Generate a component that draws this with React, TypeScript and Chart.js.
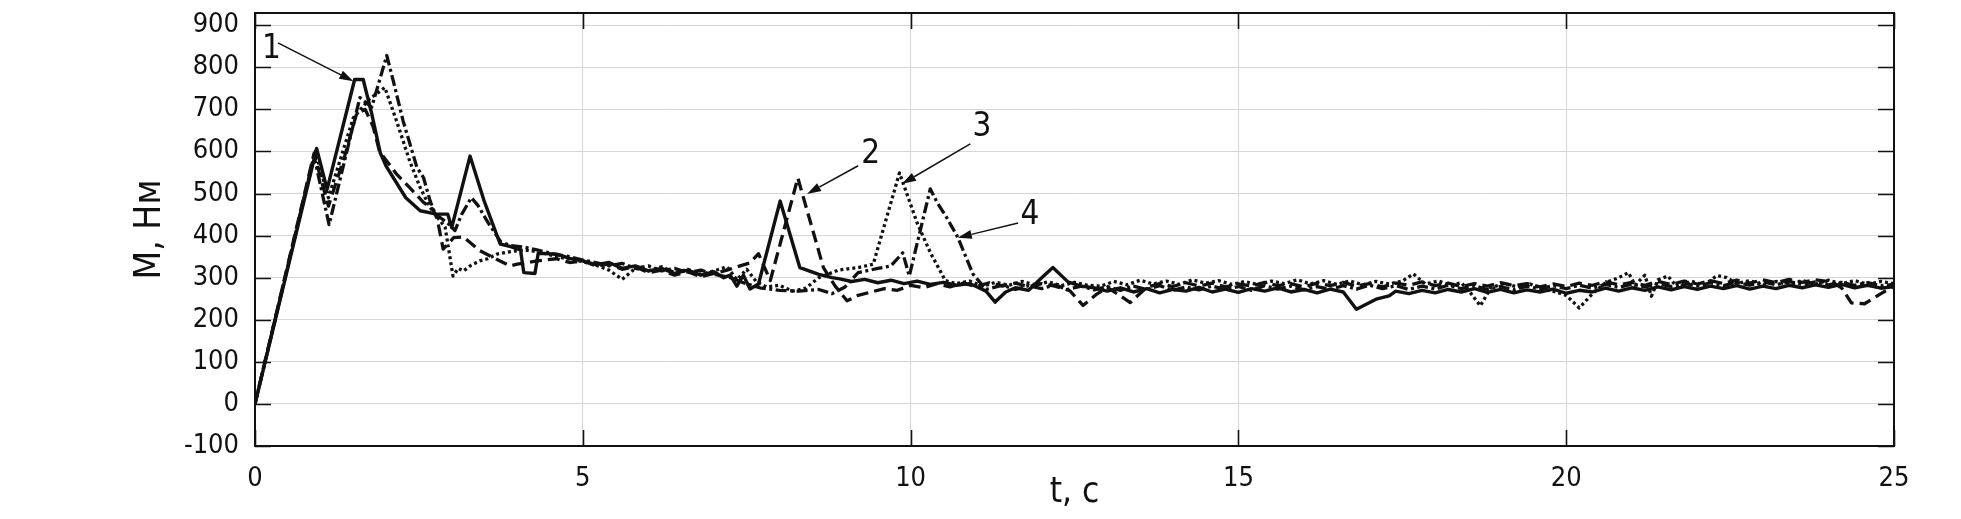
import React, { useEffect, useRef } from "react";
import { Chart, registerables } from "chart.js";

Chart.register(...registerables);

// ---------- data ----------
const xTickValues = [0, 5, 10, 15, 20, 25];
const yTickValues = [-100, 0, 100, 200, 300, 400, 500, 600, 700, 800, 900];

// series 1 (solid) : [t, M]
const series1: [number, number][] = [
  [0, 0], [0.94, 607], [1.1, 510], [1.52, 771], [1.65, 771], [1.78, 690], [1.91, 597], [2.0, 565],
  [2.3, 490], [2.52, 459], [2.77, 451], [2.94, 451], [3.0, 419], [3.28, 589], [3.5, 480], [3.74, 380],
  [3.9, 374], [4.05, 366], [4.1, 312], [4.27, 310], [4.32, 358], [4.6, 356], [4.8, 346], [5.0, 340],
  [5.2, 331], [5.4, 336], [5.6, 322], [5.8, 328], [6.0, 316], [6.2, 322], [6.4, 310], [6.6, 318],
  [6.8, 306], [7.0, 314], [7.15, 300], [7.25, 306], [7.35, 280], [7.45, 306], [7.55, 273], [7.68, 285],
  [8.01, 482], [8.31, 324], [8.6, 308], [8.8, 300], [8.92, 297], [9.1, 291], [9.3, 296], [9.5, 288],
  [9.7, 294], [9.9, 286], [10.1, 292], [10.3, 284], [10.5, 289], [10.7, 282], [10.9, 286], [11.0, 279],
  [11.15, 268], [11.29, 242], [11.45, 266], [11.6, 276], [11.8, 270], [12.0, 300], [12.17, 324], [12.4, 290],
  [12.6, 280], [12.8, 276], [13.0, 268], [13.2, 276], [13.4, 266], [13.6, 274], [13.8, 264], [14.0, 272],
  [14.2, 268], [14.4, 277], [14.6, 266], [14.8, 273], [15.0, 265], [15.2, 274], [15.4, 268], [15.6, 276],
  [15.8, 266], [16.0, 272], [16.2, 264], [16.4, 273], [16.6, 266], [16.8, 225], [17.1, 249], [17.3, 257],
  [17.4, 268], [17.6, 262], [17.8, 270], [18.0, 264], [18.2, 272], [18.4, 266], [18.6, 274], [18.8, 265],
  [19.0, 272], [19.2, 264], [19.4, 271], [19.6, 266], [19.8, 273], [20.0, 263], [20.2, 270], [20.4, 266],
  [20.6, 275], [20.8, 268], [21.0, 276], [21.2, 270], [21.4, 278], [21.6, 271], [21.8, 279], [22.0, 272],
  [22.2, 280], [22.4, 274], [22.6, 281], [22.8, 273], [23.0, 280], [23.2, 274], [23.4, 282], [23.6, 276],
  [23.8, 283], [24.0, 277], [24.2, 284], [24.4, 276], [24.6, 282], [24.8, 275], [25.0, 279],
];

// series 2 (dashed)
const series2: [number, number][] = [
  [0, 0], [0.9, 595], [1.12, 470], [1.37, 590], [1.55, 690], [1.68, 700], [1.8, 660], [1.9, 600],
  [2.16, 546], [2.36, 514], [2.57, 479], [2.7, 465], [2.78, 440], [2.87, 368], [3.03, 395], [3.18, 397],
  [3.43, 364], [3.63, 348], [3.89, 328], [4.0, 332], [4.3, 340], [4.6, 345], [4.8, 336], [5.0, 340],
  [5.2, 328], [5.4, 332], [5.6, 320], [5.8, 326], [6.0, 312], [6.2, 318], [6.4, 306], [6.6, 314],
  [6.8, 302], [7.0, 310], [7.2, 318], [7.4, 328], [7.55, 335], [7.68, 357], [7.86, 293], [8.28, 537],
  [8.67, 324], [8.85, 280], [9.03, 245], [9.2, 258], [9.4, 266], [9.6, 274], [9.8, 270], [10.0, 282],
  [10.2, 276], [10.4, 286], [10.6, 278], [10.8, 287], [11.0, 279], [11.2, 288], [11.4, 280], [11.6, 287],
  [11.8, 279], [12.0, 286], [12.2, 280], [12.43, 269], [12.63, 234], [12.84, 261], [13.0, 277], [13.15, 262],
  [13.35, 241], [13.6, 277], [13.8, 286], [14.0, 279], [14.2, 288], [14.4, 280], [14.6, 287], [14.8, 278],
  [15.0, 285], [15.2, 280], [15.4, 289], [15.6, 281], [15.8, 286], [16.0, 278], [16.2, 287], [16.4, 281],
  [16.6, 289], [16.8, 280], [17.0, 286], [17.2, 278], [17.4, 287], [17.6, 282], [17.8, 290], [18.0, 281],
  [18.2, 287], [18.4, 279], [18.6, 286], [18.8, 280], [19.0, 288], [19.2, 281], [19.4, 286], [19.6, 278],
  [19.8, 285], [20.0, 279], [20.2, 287], [20.4, 282], [20.6, 290], [20.8, 283], [21.0, 289], [21.2, 282],
  [21.4, 291], [21.6, 284], [21.8, 292], [22.0, 285], [22.2, 293], [22.4, 286], [22.6, 294], [22.8, 287],
  [23.0, 295], [23.2, 288], [23.4, 296], [23.6, 289], [23.8, 295], [24.05, 290], [24.2, 276], [24.35, 240],
  [24.55, 238], [24.8, 262], [25.0, 280],
];

// series 3 (dotted)
const series3: [number, number][] = [
  [0, 0], [0.92, 600], [1.12, 490], [1.5, 680], [1.75, 725], [1.98, 752], [2.16, 672], [2.36, 577],
  [2.52, 514], [2.67, 467], [2.8, 440], [2.9, 420], [3.02, 304], [3.1, 322], [3.18, 316], [3.3, 330],
  [3.43, 340], [3.55, 345], [3.69, 356], [3.9, 362], [4.1, 366], [4.3, 362], [4.6, 350], [4.8, 344],
  [5.0, 338], [5.2, 330], [5.4, 318], [5.6, 296], [5.8, 322], [6.0, 316], [6.2, 326], [6.4, 312],
  [6.6, 320], [6.8, 308], [7.0, 316], [7.2, 326], [7.35, 295], [7.5, 320], [7.65, 290], [7.8, 278],
  [8.0, 282], [8.2, 268], [8.4, 275], [8.6, 300], [8.9, 318], [9.2, 324], [9.43, 332], [9.83, 549],
  [10.1, 430], [10.3, 360], [10.53, 293], [10.7, 286], [10.9, 292], [11.1, 280], [11.3, 289], [11.5, 282],
  [11.7, 291], [11.9, 283], [12.1, 290], [12.3, 281], [12.5, 289], [12.7, 282], [12.9, 280], [13.1, 291],
  [13.3, 283], [13.5, 294], [13.7, 285], [13.9, 292], [14.1, 284], [14.3, 295], [14.5, 287], [14.7, 293],
  [14.9, 284], [15.1, 291], [15.3, 283], [15.5, 292], [15.7, 286], [15.9, 295], [16.1, 285], [16.3, 293],
  [16.5, 284], [16.7, 292], [16.9, 283], [17.1, 291], [17.3, 285], [17.5, 292], [17.67, 309], [17.85, 285],
  [18.05, 292], [18.25, 282], [18.4, 288], [18.55, 262], [18.69, 233], [18.85, 276], [19.05, 286], [19.25, 278],
  [19.45, 285], [19.65, 272], [19.85, 266], [20.0, 258], [20.2, 228], [20.4, 262], [20.6, 288], [20.8, 300],
  [20.95, 312], [21.05, 282], [21.2, 306], [21.3, 256], [21.4, 295], [21.55, 304], [21.7, 276], [21.9, 292],
  [22.1, 282], [22.3, 305], [22.45, 300], [22.6, 286], [22.8, 293], [23.0, 282], [23.2, 291], [23.4, 283],
  [23.6, 293], [23.8, 285], [24.0, 294], [24.2, 286], [24.4, 293], [24.6, 284], [24.8, 291], [25.0, 286],
];

// series 4 (dash-dot)
const series4: [number, number][] = [
  [0, 0], [0.9, 590], [1.13, 426], [1.6, 728], [1.78, 705], [2.01, 828], [2.11, 767], [2.26, 672],
  [2.47, 562], [2.57, 538], [2.67, 483], [2.75, 451], [2.85, 440], [2.95, 428], [3.05, 412], [3.15, 450],
  [3.3, 490], [3.4, 472], [3.55, 432], [3.75, 385], [3.9, 376], [4.1, 373], [4.3, 366], [4.6, 355],
  [4.8, 350], [5.0, 342], [5.2, 336], [5.4, 328], [5.6, 334], [5.8, 322], [6.0, 328], [6.2, 316],
  [6.4, 322], [6.6, 312], [6.8, 318], [7.0, 308], [7.25, 300], [7.45, 288], [7.7, 276], [8.0, 270],
  [8.3, 268], [8.6, 272], [8.8, 262], [9.0, 278], [9.2, 312], [9.5, 322], [9.7, 328], [9.88, 359],
  [9.98, 304], [10.3, 511], [10.4, 480], [10.55, 443], [10.72, 396], [10.95, 309], [11.15, 272], [11.4, 282],
  [11.6, 272], [11.8, 281], [12.0, 274], [12.2, 283], [12.4, 272], [12.6, 280], [12.8, 271], [13.0, 279],
  [13.2, 270], [13.4, 280], [13.6, 272], [13.8, 281], [14.0, 270], [14.2, 278], [14.4, 271], [14.6, 280],
  [14.8, 272], [15.0, 279], [15.2, 270], [15.4, 281], [15.6, 273], [15.8, 280], [16.0, 271], [16.2, 279],
  [16.4, 272], [16.6, 281], [16.8, 273], [17.0, 282], [17.2, 274], [17.4, 281], [17.6, 272], [17.8, 280],
  [18.0, 273], [18.2, 282], [18.4, 274], [18.6, 281], [18.8, 272], [19.0, 279], [19.2, 271], [19.4, 280],
  [19.6, 273], [19.8, 281], [20.0, 274], [20.2, 282], [20.4, 275], [20.6, 284], [20.8, 277], [21.0, 285],
  [21.2, 278], [21.4, 286], [21.6, 279], [21.8, 287], [22.0, 280], [22.2, 288], [22.4, 281], [22.6, 289],
  [22.8, 282], [23.0, 290], [23.2, 283], [23.4, 291], [23.6, 284], [23.8, 290], [24.0, 283], [24.2, 289],
  [24.4, 282], [24.6, 288], [24.8, 281], [25.0, 284],
];

// callouts: label, label position, arrow start and arrow tip (data units)
const calloutLabels = ["1", "2", "3", "4"];
const calloutText: [number, number][] = [[0.25, 842], [9.39, 592], [11.09, 656], [11.82, 447]];
const calloutFrom: [number, number][] = [[0.35, 858], [9.2, 566], [10.91, 618], [11.64, 430]];
const calloutTo: [number, number][] = [[1.5, 767], [8.42, 499], [9.87, 523], [10.72, 395]];

const xTitle = "t, с";
const yTitle = "М, Нм";

// ---------- style ----------
const FONT = "'DejaVu Sans Condensed', 'DejaVu Sans', sans-serif";
const INK = "#111";

const framePlugin = {
  id: "frame",
  afterDatasetsDraw(chart: any) {
    const { ctx, chartArea: a, scales } = chart;
    const xs = scales.x;
    const ys = scales.y;
    ctx.save();
    ctx.strokeStyle = INK;
    ctx.lineWidth = 2;
    ctx.strokeRect(a.left, a.top, a.right - a.left, a.bottom - a.top);
    ctx.beginPath();
    const tl = 16;
    for (const v of yTickValues) {
      const py = Math.round(ys.getPixelForValue(v)) + 0.5;
      ctx.moveTo(a.left, py);
      ctx.lineTo(a.left + tl, py);
      ctx.moveTo(a.right, py);
      ctx.lineTo(a.right - tl, py);
    }
    for (const v of xTickValues) {
      const px = Math.round(xs.getPixelForValue(v)) + 0.5;
      ctx.moveTo(px, a.bottom);
      ctx.lineTo(px, a.bottom - tl);
      ctx.moveTo(px, a.top);
      ctx.lineTo(px, a.top + tl);
    }
    ctx.lineWidth = 1.6;
    ctx.stroke();

    ctx.fillStyle = INK;
    ctx.strokeStyle = INK;
    ctx.font = `33px ${FONT}`;
    ctx.textAlign = "center";
    ctx.textBaseline = "middle";
    calloutLabels.forEach((lab, i) => {
      const tx = xs.getPixelForValue(calloutText[i][0]);
      const ty = ys.getPixelForValue(calloutText[i][1]);
      ctx.fillText(lab, tx, ty);
      const x0 = xs.getPixelForValue(calloutFrom[i][0]);
      const y0 = ys.getPixelForValue(calloutFrom[i][1]);
      const x1 = xs.getPixelForValue(calloutTo[i][0]);
      const y1 = ys.getPixelForValue(calloutTo[i][1]);
      const ang = Math.atan2(y1 - y0, x1 - x0);
      const hl = 14;
      const hw = 4.5;
      const bx = x1 - hl * Math.cos(ang);
      const by = y1 - hl * Math.sin(ang);
      ctx.lineWidth = 1.5;
      ctx.beginPath();
      ctx.moveTo(x0, y0);
      ctx.lineTo(bx, by);
      ctx.stroke();
      ctx.beginPath();
      ctx.moveTo(x1, y1);
      ctx.lineTo(bx + hw * Math.sin(ang), by - hw * Math.cos(ang));
      ctx.lineTo(bx - hw * Math.sin(ang), by + hw * Math.cos(ang));
      ctx.closePath();
      ctx.fill();
    });
    ctx.restore();
  },
};

function toPoints(s: [number, number][]) {
  return s.map(([x, y]) => ({ x, y }));
}

export default function App() {
  const ref = useRef<HTMLCanvasElement | null>(null);

  useEffect(() => {
    const canvas = ref.current;
    if (!canvas) return;
    const lineDs = (data: [number, number][], dash: number[], width: number) => ({
      data: toPoints(data),
      borderColor: INK,
      borderWidth: width,
      borderDash: dash,
      pointRadius: 0,
      tension: 0,
      fill: false,
      borderJoinStyle: "round" as const,
    });
    const chart = new Chart(canvas, {
      type: "line",
      data: {
        datasets: [
          lineDs(series4, [11, 3.5, 3, 3.5], 3.3),
          lineDs(series3, [3, 3], 3.3),
          lineDs(series2, [12, 6], 3.3),
          lineDs(series1, [], 3.4),
        ],
      },
      options: {
        responsive: false,
        animation: false,
        devicePixelRatio: 1,
        layout: { padding: { top: 13, right: 67, left: 0, bottom: 0 } },
        plugins: { legend: { display: false }, tooltip: { enabled: false } },
        scales: {
          x: {
            type: "linear",
            min: 0,
            max: 25,
            afterFit: (s: any) => {
              s.height = 73;
              s.paddingLeft = 0;
              s.paddingRight = 0;
            },
            afterBuildTicks: (s: any) => {
              s.ticks = xTickValues.map((v) => ({ value: v }));
            },
            ticks: {
              autoSkip: false,
              maxRotation: 0,
              padding: 17,
              color: INK,
              font: { family: FONT, size: 27 },
            },
            grid: { color: "#d6d6d6", lineWidth: 1, drawTicks: false },
            border: { display: false },
            title: {
              display: true,
              text: xTitle,
              color: INK,
              font: { family: FONT, size: 35 },
              padding: { top: 0, bottom: 5 },
            },
          },
          y: {
            type: "linear",
            min: -100,
            max: 929,
            afterFit: (s: any) => {
              s.width = 255;
              s.paddingTop = 0;
              s.paddingBottom = 0;
            },
            afterBuildTicks: (s: any) => {
              s.ticks = yTickValues.map((v) => ({ value: v }));
            },
            ticks: {
              autoSkip: false,
              padding: 16,
              color: INK,
              font: { family: FONT, size: 27 },
            },
            grid: { color: "#d6d6d6", lineWidth: 1, drawTicks: false },
            border: { display: false },
            title: {
              display: true,
              text: yTitle,
              color: INK,
              font: { family: FONT, size: 37 },
              padding: { top: 128, bottom: 0 },
            },
          },
        },
      },
      plugins: [framePlugin],
    });
    return () => chart.destroy();
  }, []);

  return (
    <div style={{ position: "absolute", left: 0, top: 0, width: 1961, height: 519, background: "#fff" }}>
      <canvas ref={ref} width={1961} height={519} style={{ display: "block" }} />
    </div>
  );
}
